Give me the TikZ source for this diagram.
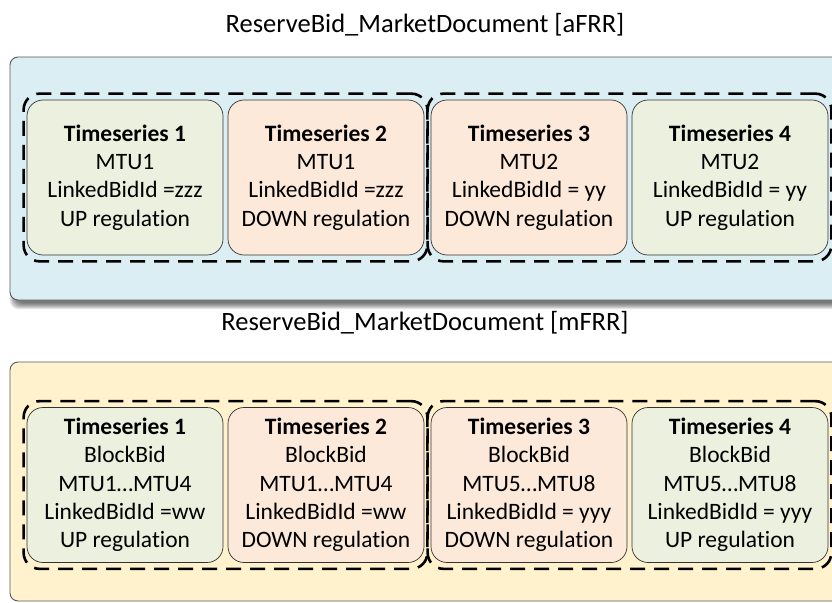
\documentclass[tikz,border=0pt]{standalone}
\usepackage{fontspec}
\setmainfont{Carlito}[Ligatures=NoCommon]
\usetikzlibrary{fit}
\definecolor{panelblue}{HTML}{DAEEF3}
\definecolor{panelyellow}{HTML}{FFF2CC}
\definecolor{boxgreen}{HTML}{EBF1DE}
\definecolor{boxorange}{HTML}{FDE9D9}
\definecolor{edgegray}{HTML}{595959}
\tikzset{
  panel/.style={draw=edgegray, line width=0.9pt, rounded corners=8pt},
  tsbox/.style={draw=black!80, line width=0.7pt, rounded corners=16pt,
    minimum width=196pt, minimum height=155pt, inner sep=0pt, align=center,
    font=\fontsize{23.5}{28.3}\selectfont},
  greenbox/.style={tsbox, fill=boxgreen},
  orangebox/.style={tsbox, fill=boxorange},
  group/.style={draw=black, line width=2.6pt, dash pattern=on 15pt off 9pt,
    rounded corners=16pt, inner xsep=3pt, inner ysep=6pt},
  doctitle/.style={font=\fontsize{26.5}{30}\selectfont, inner sep=0pt}
}
\begin{document}
\begin{tikzpicture}[x=1pt,y=-1pt]
\useasboundingbox (0,0) rectangle (832,602);
\clip (0,0) rectangle (832,602);
% titles
\node[doctitle] (title1) at (425,25) {ReserveBid\_MarketDocument [aFRR]};
\node[doctitle] (title2) at (425,323) {ReserveBid\_MarketDocument [mFRR]};
% shadow of top panel
\foreach \s in {-3,-2,-1,0,1,2,3}
  \fill[black, opacity=0.1, rounded corners=8pt]
    (13-\s,63-\s) rectangle (870+\s,306+\s);
% panels
\draw[panel, fill=panelblue] (10,57) rectangle (870,300);
\draw[panel, fill=panelyellow] (10,362) rectangle (870,601);
% top time series
\node[greenbox]  (a1) at (125,177.5) {\textbf{Timeseries 1}\\MTU1\\LinkedBidId =zzz\\UP regulation};
\node[orangebox] (a2) at (326,177.5) {\textbf{Timeseries 2}\\MTU1\\LinkedBidId =zzz\\DOWN regulation};
\node[orangebox] (a3) at (529,177.5) {\textbf{Timeseries 3}\\MTU2\\LinkedBidId = yy\\DOWN regulation};
\node[greenbox]  (a4) at (730,177.5) {\textbf{Timeseries 4}\\MTU2\\LinkedBidId = yy\\UP regulation};
\node[group, fit=(a1)(a2)] (ga1) {};
\node[group, fit=(a3)(a4)] (ga2) {};
% bottom time series
\node[greenbox]  (b1) at (125,485) {\textbf{Timeseries 1}\\BlockBid\\MTU1…MTU4\\LinkedBidId =ww\\UP regulation};
\node[orangebox] (b2) at (326,485) {\textbf{Timeseries 2}\\BlockBid\\MTU1…MTU4\\LinkedBidId =ww\\DOWN regulation};
\node[orangebox] (b3) at (529,485) {\textbf{Timeseries 3}\\BlockBid\\MTU5…MTU8\\LinkedBidId = yyy\\DOWN regulation};
\node[greenbox]  (b4) at (730,485) {\textbf{Timeseries 4}\\BlockBid\\MTU5…MTU8\\LinkedBidId = yyy\\UP regulation};
\node[group, fit=(b1)(b2)] (gb1) {};
\node[group, fit=(b3)(b4)] (gb2) {};
\end{tikzpicture}
\end{document}
